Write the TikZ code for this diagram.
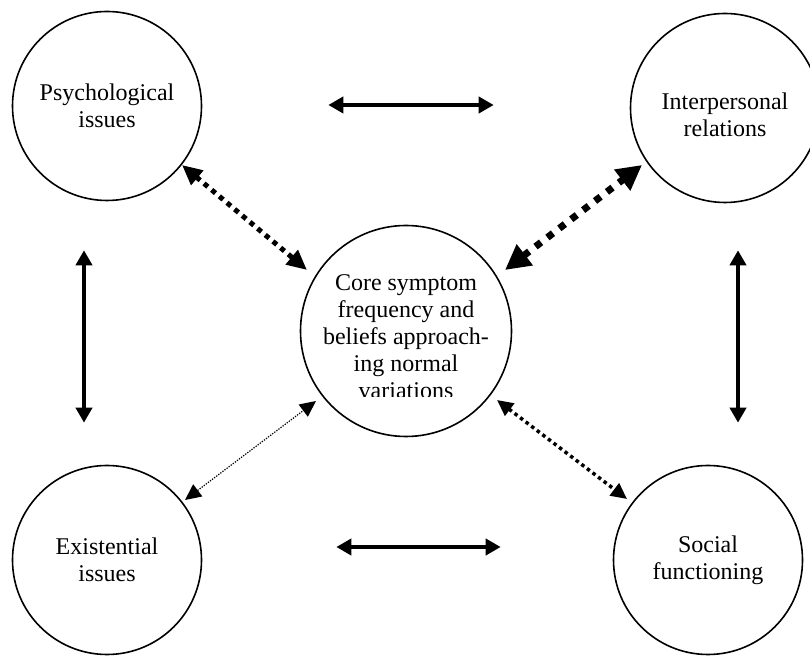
\documentclass[tikz,border=0pt]{standalone}
\usepackage{fontspec}
\setmainfont{Liberation Serif}
\usetikzlibrary{arrows.meta}
\begin{document}
\begin{tikzpicture}[x=1pt,y=1pt,
  bubble/.style={circle,draw,line width=1.6pt,minimum size=189pt,inner sep=0pt,align=center,
    font=\fontsize{24}{27}\selectfont},
  btext/.style={align=center,font=\fontsize{24}{27}\selectfont,inner sep=0pt},
  solidarr/.style={line width=4pt,{Triangle[length=15pt,width=16pt]}-{Triangle[length=15pt,width=16pt]}},
  sqdots/.style={line width=5pt,dash pattern=on 5pt off 5pt,{Triangle[length=20pt,width=18pt]}-{Triangle[length=20pt,width=18pt]}},
  bigsq/.style={line width=7pt,dash pattern=on 7pt off 8pt,{Triangle[length=25pt,width=25pt]}-{Triangle[length=25pt,width=25pt]}},
  finedots/.style={line width=1.2pt,dash pattern=on 1.3pt off 1.3pt,{Triangle[length=16pt,width=15pt]}-{Triangle[length=16pt,width=15pt]}},
  meddots/.style={line width=3.5pt,dash pattern=on 3.5pt off 3.5pt,{Triangle[length=16pt,width=15pt]}-{Triangle[length=16pt,width=15pt]}}
]
\useasboundingbox (0,0) rectangle (810,655);
\clip (0,0) rectangle (810,655);
\fill[white] (0,0) rectangle (810,655);

\node[bubble] (psy) at (107,549) {Psychological\\issues};
\node[bubble] (inter) at (725,547) {};
\node[btext] (intertext) at ([yshift=-7pt]inter.center) {Interpersonal\\relations};
\node[bubble,minimum size=211pt] (core) at (406,324) {};
\node[bubble] (exist) at (107,95) {Existential\\issues};
\node[bubble] (social) at (708,95) {Social\\functioning};

\begin{scope}
  \clip (300,258) rectangle (512,440);
  \node[btext] (coretext) at ([yshift=-6pt]core.center)
    {Core symptom\\frequency and\\beliefs approach-\\ing normal\\variations};
\end{scope}

% solid arrows
\draw[solidarr] ([shift={(126,1)}]psy.east) -- ([shift={(-136,3)}]inter.west);
\draw[solidarr] ([shift={(134,13)}]exist.east) -- ([shift={(-112,13)}]social.west);
\draw[solidarr] ([shift={(-23,-49)}]psy.south) -- ([shift={(-23,42)}]exist.north);
\draw[solidarr] ([shift={(13,-47)}]inter.south) -- ([shift={(30,42)}]social.north);

% dotted arrows
\draw[sqdots] ([shift={(75,-59)}]psy.center) -- ([shift={(-99,61)}]core.center);
\draw[bigsq] ([shift={(99,61)}]core.center) -- ([shift={(-83,-57)}]inter.center);
\draw[finedots] ([shift={(78,60)}]exist.center) -- ([shift={(-90,-70)}]core.center);
\draw[meddots] ([shift={(91,-69)}]core.center) -- ([shift={(-81,61)}]social.center);
\end{tikzpicture}
\end{document}
